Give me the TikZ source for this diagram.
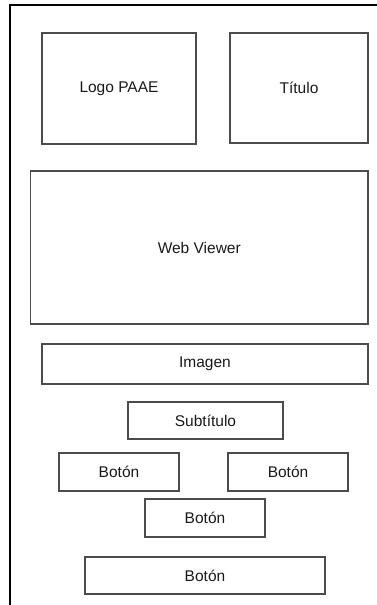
\documentclass[tikz,border=0pt]{standalone}
\usepackage{fontspec}
\setmainfont{Liberation Sans}
\begin{document}
\begin{tikzpicture}[x=1pt, y=-1pt]

\def\btnwidth{120};
\def\btnheight{38};
\tikzset{ui box/.style={
    rectangle,
    draw=black!70,
    line width=1.1pt,
    outer sep=0,
    inner sep=0,
    text=black!90,
    font=\fontsize{15.5}{18}\selectfont
}};

\useasboundingbox (0,0) rectangle (376,605);

% marco de la pantalla
\draw[line width=2pt] (377,5) -- (10,5) -- (10,606);

\node[ui box, minimum width=154, minimum height=111] (logo) at (119,88.5) {Logo PAAE};
\node[ui box, minimum width=138, minimum height=110] (titulo) at (299,88) {Título};
\node[ui box, minimum width=337.5, minimum height=153] (web) at (199.25,247.5) {Web Viewer};
\node[ui box, minimum width=326, minimum height=40] (imagen) at (205,364) {Imagen};
\node[ui box, minimum width=155, minimum height=37] (subtitulo) at (205.5,420.5) {Subtítulo};

\foreach \cx/\cy [count=\i] in {119/472, 288/472, 205/518} {
    \node[ui box, minimum width=\btnwidth, minimum height=\btnheight] (boton\i) at (\cx,\cy) {Botón};
}

\node[ui box, minimum width=2*\btnwidth, minimum height=37] (boton4) at (205,575.5) {Botón};
\end{tikzpicture}
\end{document}
